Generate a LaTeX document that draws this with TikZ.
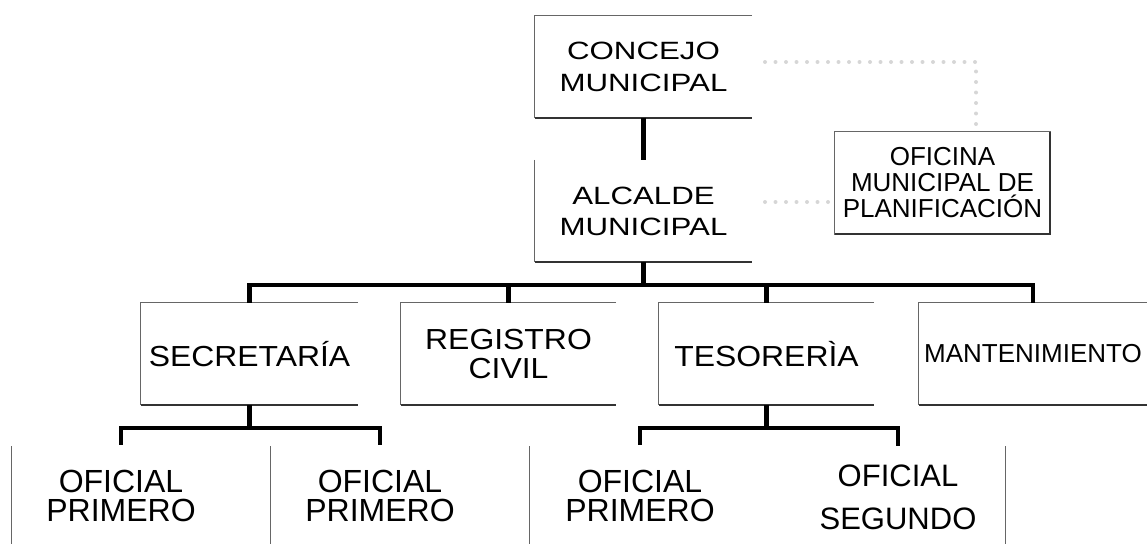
\documentclass[tikz,border=0pt]{standalone}
\usepackage{fontspec}
\setmainfont{Liberation Sans}
\newfontfamily\anchoA{Liberation Sans}[FakeStretch=1.25]
\newfontfamily\anchoB{Liberation Sans}[FakeStretch=1.1]
\usetikzlibrary{positioning}

\begin{document}
\begin{tikzpicture}[x=1pt,y=-1pt,
    caja/.style={minimum width=217pt,minimum height=102pt,inner sep=0pt,align=center},
    puesto/.style={minimum height=102pt,inner sep=0pt,align=center,
        font=\fontsize{32}{29}\selectfont},
    linea/.style={line width=4.5pt},
    marco/.style={draw=black!60,line width=1pt},
    fondo/.style={draw=black!80,line width=2.2pt},
    punteado/.style={draw=black!16,line width=4pt,line cap=round,dash pattern=on 0pt off 10.5pt}]
    \useasboundingbox (0,0) rectangle (1147,544);

    % concejo and alcalde
    \node[caja,font=\anchoA\fontsize{25}{32}\selectfont] (concejo) at (643.5,66.5) {CONCEJO\\MUNICIPAL};
    \node[caja,font=\anchoA\fontsize{25}{31}\selectfont] (alcalde) at (643.5,211) {ALCALDE\\MUNICIPAL};

    % planning office
    \node[caja,minimum width=215pt,font=\fontsize{26}{26}\selectfont] (oficina) at (942.5,183) {OFICINA\\MUNICIPAL DE\\PLANIFICACIÓN};

    % departments
    \node[caja,font=\anchoB\fontsize{29}{29}\selectfont] (secretaria) at (249.5,354) {SECRETARÍA};
    \node[caja,minimum width=215pt,font=\anchoB\fontsize{29}{29}\selectfont] (registro) at (508.5,354) {REGISTRO\\CIVIL};
    \node[caja,minimum width=215pt,font=\anchoB\fontsize{29}{29}\selectfont] (tesoreria) at (766.5,354) {TESORERÌA};
    \node[caja,minimum width=228pt,font=\fontsize{26}{26}\selectfont] (mantenimiento) at (1033,354) {MANTENIMIENTO};

    % officers
    \node[puesto] (oficial1) at (121,496) {OFICIAL\\PRIMERO};
    \node[puesto] (oficial2) at (380,496) {OFICIAL\\PRIMERO};
    \node[puesto] (oficial3) at (640,496) {OFICIAL\\PRIMERO};
    \node[puesto,font=\fontsize{31}{43}\selectfont] (oficial4) at (898,497) {OFICIAL\\SEGUNDO};

    % box frames, open on the right
    \foreach \n in {concejo,secretaria,registro,tesoreria,mantenimiento}{
        \draw[marco] (\n.north east) -- (\n.north west) -- (\n.south west);
        \draw[fondo] (\n.south west) -- (\n.south east);
    }
    \draw[marco] (alcalde.north west) -- (alcalde.south west);
    \draw[fondo] (alcalde.south west) -- (alcalde.south east);
    \draw[marco] (oficina.south west) rectangle (oficina.north east);
    \draw[fondo] (oficina.south west) -- (oficina.south east) -- (oficina.north east);

    % officer column dividers
    \foreach \x in {11,270,529,1005}
        \draw[marco] (\x,446) -- (\x,544);

    % concejo -- alcalde
    \draw[linea] (concejo) -- (alcalde);

    % alcalde -- departments
    \coordinate (barra) at (0,285);
    \draw[linea] (alcalde.south) -- (alcalde.south |- barra);
    \draw[linea] (secretaria.north) -- (secretaria.north |- barra) -- (mantenimiento.north |- barra) -- (mantenimiento.north);
    \foreach \d in {registro,tesoreria}
        \draw[linea] (\d.north) -- (\d.north |- barra);

    % departments -- officers
    \coordinate (barra2) at (0,428);
    \draw[linea] (secretaria.south) -- (secretaria.south |- barra2);
    \draw[linea] (oficial1.north) -- (oficial1.north |- barra2) -- (oficial2.north |- barra2) -- (oficial2.north);
    \draw[linea] (tesoreria.south) -- (tesoreria.south |- barra2);
    \draw[linea] (oficial3.north) -- (oficial3.north |- barra2) -- (oficial4.north |- barra2) -- (oficial4.north);

    % dotted links to the planning office
    \coordinate (p1) at (765,62);
    \coordinate (p2) at (765,202);
    \draw[punteado] (p1) -| ([xshift=33.5pt]oficina.north);
    \draw[punteado] (p2) -- (oficina.west |- p2);
\end{tikzpicture}
\end{document}
